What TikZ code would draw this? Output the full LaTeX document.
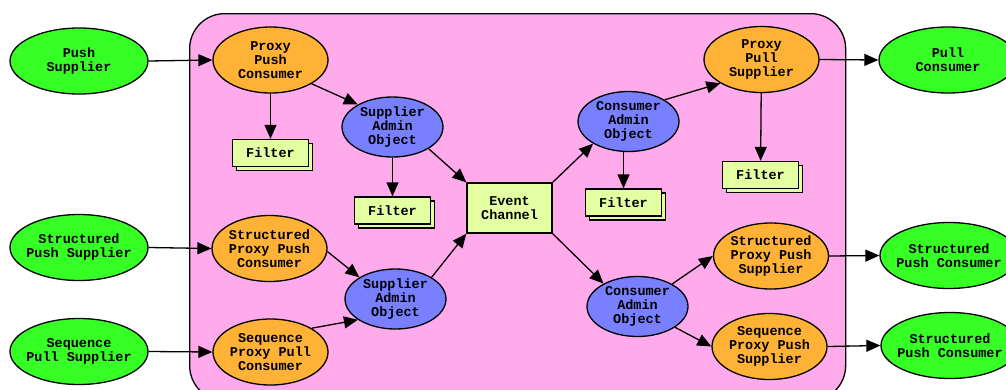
\documentclass[tikz,border=0pt]{standalone}
\usepackage{fontspec}
\newfontfamily\diagfont{Liberation Mono}
\usetikzlibrary{shapes.geometric,arrows.meta,shadows}

\definecolor{areapink}{RGB}{255,170,234}
\definecolor{endgreen}{RGB}{54,255,38}
\definecolor{proxyorange}{RGB}{255,178,53}
\definecolor{adminblue}{RGB}{120,128,255}
\definecolor{filterlime}{RGB}{228,255,162}

\tikzset{
  outline/.style={draw=black, line width=1.3pt},
  txt/.style={font=\diagfont\bfseries\fontsize{13.5}{14}\selectfont, align=center, text=black},
  oval/.style={outline, txt, ellipse, inner xsep=-14pt, inner ysep=-6pt},
  endpoint/.style={oval, fill=endgreen, minimum width=138pt, minimum height=66pt},
  proxy/.style={oval, fill=proxyorange, minimum width=115pt, minimum height=66pt},
  admin/.style={oval, fill=adminblue, minimum width=101pt, minimum height=60pt},
  filterbox/.style={outline, txt, rectangle, fill=filterlime, minimum width=76pt,
    minimum height=27pt, inner sep=0pt,
    copy shadow={shadow xshift=4pt, shadow yshift=-4pt}},
  channelbox/.style={outline, txt, rectangle, fill=filterlime, minimum width=85pt,
    minimum height=50pt, inner sep=0pt},
  area/.style={outline, fill=areapink, rectangle, rounded corners=35pt, inner sep=0pt},
  flow/.style={line width=1.3pt, -{Triangle[length=14pt,width=12pt]}}
}

\begin{document}
\begin{tikzpicture}[x=1pt, y=-1pt]
  \useasboundingbox (0,0) rectangle (1006,389);
  \clip (0,0) rectangle (1006,389);

  % notification channel area
  \node[area, anchor=north west, minimum width=656pt, minimum height=387pt] (chan) at (189,13) {};

  % suppliers and consumers outside the channel
  \node[endpoint] (ps)   at (79,61)    {Push\\Supplier};
  \node[endpoint] (sps)  at (79,247.5) {Structured\\Push Supplier};
  \node[endpoint] (seqs) at (79,351.5) {Sequence\\Pull Supplier};
  \node[endpoint] (pc)   at (948,60)   {Pull\\Consumer};
  \node[endpoint] (spc1) at (949,255.5){Structured\\Push Consumer};
  \node[endpoint] (spc2) at (950,345.5){Structured\\Push Consumer};

  % proxies
  \node[proxy] (ppc)    at (270.5,60)  {Proxy\\Push\\Consumer};
  \node[proxy] (sppc)   at (269.5,248.5) {Structured\\Proxy Push\\Consumer};
  \node[proxy] (seqppc) at (270.5,352) {Sequence\\Proxy Pull\\Consumer};
  \node[proxy] (pps)    at (761.5,59.5) {Proxy\\Pull\\Supplier};
  \node[proxy] (spps)   at (771,256)   {Structured\\Proxy Push\\Supplier};
  \node[proxy] (seqpps) at (769.5,346.5) {Sequence\\Proxy Push\\Supplier};

  % admin objects
  \node[admin] (sao1) at (392.5,127)   {Supplier\\Admin\\Object};
  \node[admin] (sao2) at (395.5,299)   {Supplier\\Admin\\Object};
  \node[admin] (cao1) at (628.5,121.5) {Consumer\\Admin\\Object};
  \node[admin] (cao2) at (637.5,306.5) {Consumer\\Admin\\Object};

  % event channel and filters
  \node[channelbox] (ec) at (509.5,208) {Event\\Channel};
  \node[filterbox] (f1) at (270.5,153)   {Filter};
  \node[filterbox] (f2) at (392.5,210.5) {Filter};
  \node[filterbox] (f3) at (623.5,202.5) {Filter};
  \node[filterbox] (f4) at (760.5,175)   {Filter};

  % event flow
  \draw[flow] (ps.east) -- (ppc.west);
  \draw[flow] (ppc) -- (f1);
  \draw[flow] (ppc.-30) -- (sao1.147);
  \draw[flow] (sao1) -- (f2);
  \draw[flow] (sao1.-31) -- (ec.north west);
  \draw[flow] (ec.north east) -- (cao1.212);
  \draw[flow] (cao1.south -| f3.north) -- (f3.north);
  \draw[flow] (cao1.31) -- (pps.210);
  \draw[flow] (pps) -- (f4);
  \draw[flow] (pps.east) -- (pc.west);

  \draw[flow] (sps.east) -- (sppc.west);
  \draw[flow] (sppc.-3) -- (sao2.149);
  \draw[flow] (seqs.east) -- (seqppc.west);
  \draw[flow] (seqppc.30) -- (sao2.209);
  \draw[flow] (sao2.31) -- (ec.south west);
  \draw[flow] (ec.south east) -- (cao2.146);
  \draw[flow] (cao2.33) -- (spps.west);
  \draw[flow] (cao2.-29) -- (seqpps.west);
  \draw[flow] (spps.east) -- (spc1.west);
  \draw[flow] (seqpps.east) -- (spc2.west);
\end{tikzpicture}
\end{document}
